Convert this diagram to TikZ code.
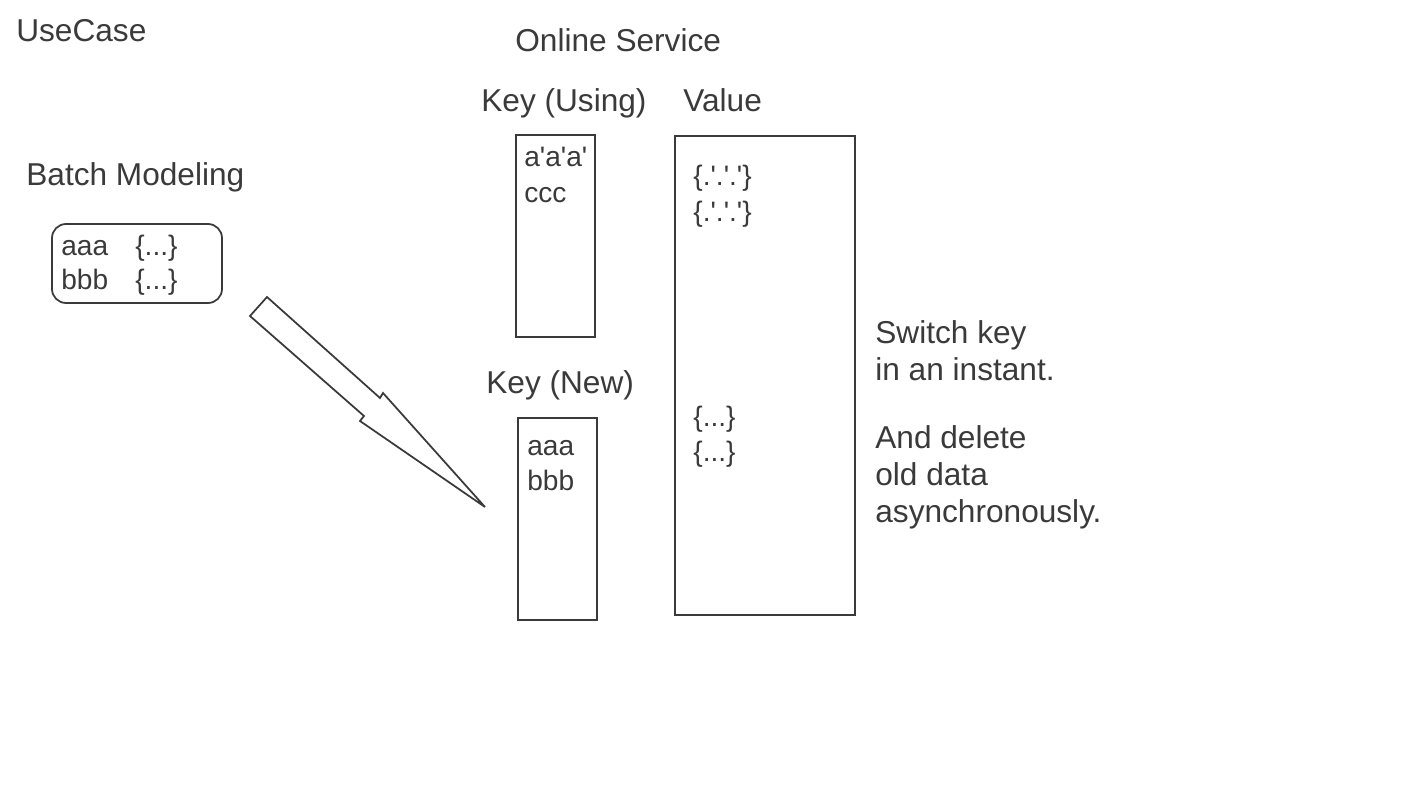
\documentclass[tikz,border=0pt]{standalone}
\usepackage{fontspec}
\setmainfont{Liberation Sans}
\definecolor{ink}{HTML}{3A3A3A}
\newcommand{\q}{\textquotesingle}
\tikzset{
  title/.style={font=\fontsize{18}{21}\selectfont, text=ink, inner sep=0pt, anchor=base west},
  entry/.style={font=\fontsize{16}{19}\selectfont, text=ink, inner sep=0pt, anchor=base west},
  box/.style={draw=ink, line width=1pt}
}
\begin{document}
\begin{tikzpicture}[x=0.02cm, y=-0.02cm]
  \useasboundingbox (0,0) rectangle (1422,800);

  % Headings
  \node[title] (usecase) at (16,42) {UseCase};
  \node[title] (batch) at (26,186) {Batch Modeling};
  \node[title] (online) at (515,52) {Online Service};
  \node[title] (keyusing) at (481,112) {Key (Using)};
  \node[title] (value) at (683,112) {Value};
  \node[title] (keynew) at (486,393) {Key (New)};

  % Batch result
  \draw[box, rounded corners=8pt] (52,224) rectangle (222,303);
  \node[entry] (bm1) at (61,256) {aaa};
  \node[entry] (bm2) at (61,290) {bbb};
  \node[entry] (bv1) at (135,256) {\{...\}};
  \node[entry] (bv2) at (135,290) {\{...\}};

  % Key store in use
  \draw[box] (516,135) rectangle (595,337);
  \node[entry] (ku1) at (524,167) {a\q a\q a\q};
  \node[entry] (ku2) at (524,203) {ccc};

  % New key store
  \draw[box] (518,418) rectangle (597,620);
  \node[entry] (kn1) at (527,455) {aaa};
  \node[entry] (kn2) at (527,490) {bbb};

  % Value store
  \draw[box] (675,136) rectangle (855,615);
  \node[entry] (vo1) at (693,186) {\{.\q.\q.\q\}};
  \node[entry] (vo2) at (693,222) {\{.\q.\q.\q\}};
  \node[entry] (vn1) at (693,426) {\{...\}};
  \node[entry] (vn2) at (693,461) {\{...\}};

  % Block arrow from batch to new keys
  \draw[box, line join=miter, miter limit=4] (250,316) -- (364,416) -- (360,421)
    -- (485,507) -- (383,393) -- (380,398) -- (267,297) -- cycle;

  % Notes
  \node[title] (note1) at (875,343) {Switch key};
  \node[title] (note2) at (875,380) {in an instant.};
  \node[title] (note3) at (875,448) {And delete};
  \node[title] (note4) at (875,485) {old data};
  \node[title] (note5) at (875,522) {asynchronously.};
\end{tikzpicture}
\end{document}
